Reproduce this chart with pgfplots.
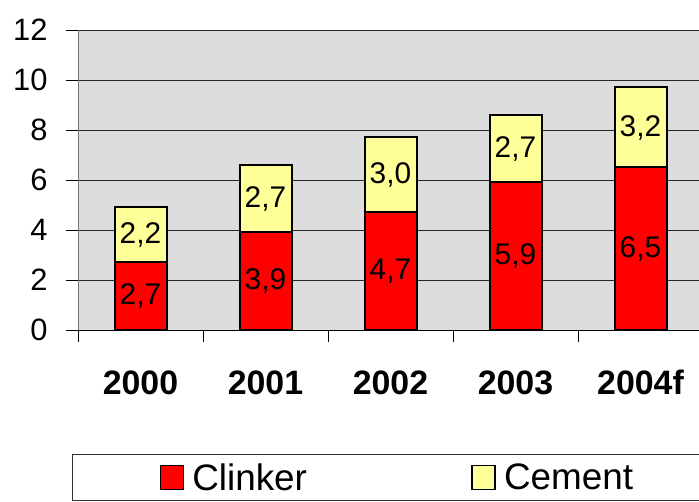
\documentclass[border=0pt]{standalone}
\usepackage{pgfplots}
\pgfplotsset{compat=1.18}
\usepackage{pgfplotstable}
\usepackage{fontspec}
\setmainfont{Liberation Sans}
\definecolor{clinker}{HTML}{FF0000}
\definecolor{cement}{HTML}{FFFF99}
\definecolor{bg}{HTML}{DDDDDD}

\pgfplotstableread{
x v lab
0 2.7 {2,7}
1 3.9 {3,9}
2 4.7 {4,7}
3 5.9 {5,9}
4 6.5 {6,5}
}\clinkerdata

\pgfplotstableread{
x v lab
0 2.2 {2,2}
1 2.7 {2,7}
2 3.0 {3,0}
3 2.7 {2,7}
4 3.2 {3,2}
}\cementdata

\begin{document}
\begin{tikzpicture}
\begin{axis}[
  at={(78bp,172bp)}, anchor=south west,
  scale only axis, width=625bp, height=300bp,
  xmin=-0.5, xmax=4.5, ymin=0, ymax=12,
  ybar stacked, bar width=52bp,
  axis background/.style={fill=bg},
  axis x line*=bottom, axis y line*=left,
  x axis line style={black, line width=1bp},
  y axis line style={black!55, line width=1bp},
  ymajorgrids,
  grid style={black!85, line width=0.8bp},
  tick align=outside,
  major tick length=12bp, minor tick length=12bp,
  ytick={0,2,4,6,8,10,12},
  yticklabels={0,2,4,6,8,10,12},
  y tick style={black, line width=0.8bp},
  yticklabel style={font=\fontsize{31}{31}\selectfont, anchor=east, xshift=-15bp},
  xtick={0,1,2,3,4},
  xticklabels={2000,2001,2002,2003,2004f},
  major x tick style={draw=none},
  minor xtick={-0.5,0.5,1.5,2.5,3.5,4.5},
  minor x tick style={black, line width=0.8bp},
  xticklabel style={font=\bfseries\fontsize{34}{34}\selectfont, anchor=base, yshift=-52bp},
  legend columns=2,
  legend style={at={(-0.0096,-0.4133)}, anchor=north west,
    draw=black!80, line width=1bp, fill=white,
    inner xsep=87bp, inner ysep=6bp,
    font=\fontsize{37}{37}\selectfont,
    nodes={inner xsep=3bp, inner ysep=3bp},
    /tikz/every even column/.append style={column sep=0bp}},
  legend image code/.code={\draw[#1, draw=black, line width=1.8bp] (0bp,-12bp) rectangle (23bp,12bp);},
  every node near coord/.append style={font=\fontsize{30}{30}\selectfont, black},
]
\addplot[fill=clinker, draw=black, line width=2bp,
  point meta=explicit symbolic, nodes near coords,
  every node near coord/.append style={anchor=center}]
  table[x=x, y=v, meta=lab] {\clinkerdata};
\addplot[fill=cement, draw=black, line width=2bp,
  point meta=explicit symbolic, nodes near coords,
  every node near coord/.append style={anchor=center}]
  table[x=x, y=v, meta=lab] {\cementdata};
\legend{\makebox[281bp][l]{\hspace{5bp}Clinker}, \makebox[300bp][l]{\hspace{5bp}Cement}}
\end{axis}
\pgfresetboundingbox
\useasboundingbox (0,0) rectangle (699bp,502bp);
\end{tikzpicture}
\end{document}
